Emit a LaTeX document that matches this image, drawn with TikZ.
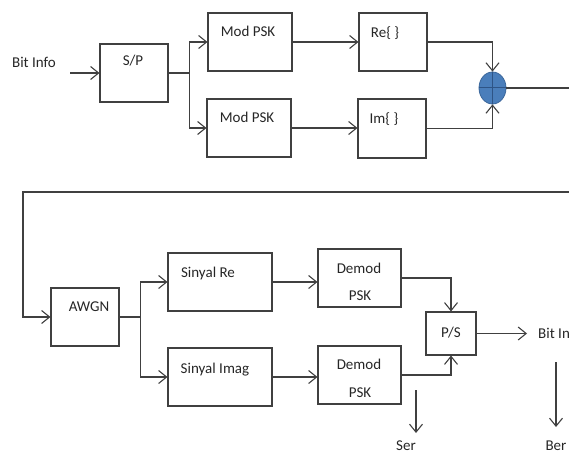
\documentclass[tikz,border=0pt]{standalone}
\usepackage{fontspec}
\setmainfont{Carlito}
\usetikzlibrary{arrows.meta,shapes.geometric,calc}
\definecolor{ln}{HTML}{404040}
\definecolor{tx}{HTML}{262626}
\definecolor{sumfill}{HTML}{4A7EBB}
\definecolor{sumdraw}{HTML}{3A669A}
\definecolor{sumcross}{HTML}{2E5486}
\tikzset{
  box/.style={draw=ln, line width=1.1pt, rectangle, inner sep=0pt},
  lbl/.style={text=tx, inner sep=0pt, font=\fontsize{15}{18}\selectfont},
  wire/.style={draw=ln, line width=1.1pt},
  arr/.style={wire, -{Straight Barb[length=8pt,width=13pt,line width=1.1pt]}},
}
\begin{document}
\begin{tikzpicture}[x=1pt,y=-1pt]
\useasboundingbox (0,0) rectangle (569,457);
\clip (0,0) rectangle (569,457);
% boxes
\node[box, minimum width=68, minimum height=58] (sp) at (134,73) {};
\node[box, minimum width=84, minimum height=58] (mod1) at (250,42) {};
\node[box, minimum width=84, minimum height=58] (mod2) at (249,128) {};
\node[box, minimum width=68, minimum height=58] (re) at (393,42) {};
\node[box, minimum width=68, minimum height=59] (im) at (392,128.5) {};
\node[ellipse, draw=sumdraw, fill=sumfill, line width=0.8pt, minimum width=27, minimum height=32, inner sep=0pt] (sum) at (492.5,88) {};
\draw[sumcross, line width=1pt] (sum.north) -- (sum.south) (sum.west) -- (sum.east);
\node[box, minimum width=68, minimum height=58] (awgn) at (85,317) {};
\node[box, minimum width=104, minimum height=58] (sre) at (220,282) {};
\node[box, minimum width=104, minimum height=58] (sim) at (220,377) {};
\node[box, minimum width=83, minimum height=58] (dem1) at (359.5,278) {};
\node[box, minimum width=83, minimum height=58] (dem2) at (359.5,375) {};
\node[box, minimum width=50, minimum height=43] (ps) at (451,333.5) {};
% texts
\node[lbl] (tin) at (34,62) {Bit Info};
\node[lbl] (tsp) at (133,61) {S/P};
\node[lbl] (tmod1) at (248,31) {Mod PSK};
\node[lbl] (tmod2) at (247,117) {Mod PSK};
\node[lbl] (tre) at (385,33) {Re\{ \}};
\node[lbl] (tim) at (384,119) {Im\{ \}};
\node[lbl] (tawgn) at (89,307) {AWGN};
\node[lbl] (tsre) at (208,273) {Sinyal Re};
\node[lbl] (tsim) at (215,370) {Sinyal Imag};
\node[lbl] (td1) at (359,268) {Demod};
\node[lbl] (tp1) at (360,296) {PSK};
\node[lbl] (td2) at (359,364) {Demod};
\node[lbl] (tp2) at (360,393) {PSK};
\node[lbl] (tps) at (451,333) {P/S};
\node[lbl, anchor=west] (tout) at (538,333) {Bit Info};
\node[lbl] (tser) at (406,446) {Ser};
\node[lbl] (tber) at (556,446) {Ber};
% coordinates
\coordinate (cin) at (70,73);
\coordinate (cout) at (527,333.5);
\coordinate (ser1) at (416,390);
\coordinate (ser2) at (416,433);
\coordinate (ber1) at (556,362);
\coordinate (ber2) at (556,427);
% connectors
\draw[arr] (cin) -- (sp.west);
\draw[arr] (sp.east) -- ++(21,0) |- (mod1.west);
\draw[arr] (sp.east) -- ++(21,0) |- (mod2.west);
\draw[arr] (mod1.east) -- (mod1.east -| re.west);
\draw[arr] (mod2.east) -- (mod2.east -| im.west);
\draw[arr] (re.east) -| (sum.north);
\draw[arr] (im.east) -| (sum.south);
\draw[arr] (sum.east) -- (580,88) |- (23,192) |- (awgn.west);
\draw[arr] (awgn.east) -- ++(21,0) |- (sre.west);
\draw[arr] (awgn.east) -- ++(21,0) |- (sim.west);
\draw[arr] (sre.east) -- (sre.east -| dem1.west);
\draw[arr] (sim.east) -- (sim.east -| dem2.west);
\draw[arr] (dem1.east) -| (ps.north);
\draw[arr] (dem2.east) -| (ps.south);
\draw[arr] (ps.east) -- (cout);
\draw[arr] (ser1) -- (ser2);
\draw[arr] (ber1) -- (ber2);
\end{tikzpicture}
\end{document}
